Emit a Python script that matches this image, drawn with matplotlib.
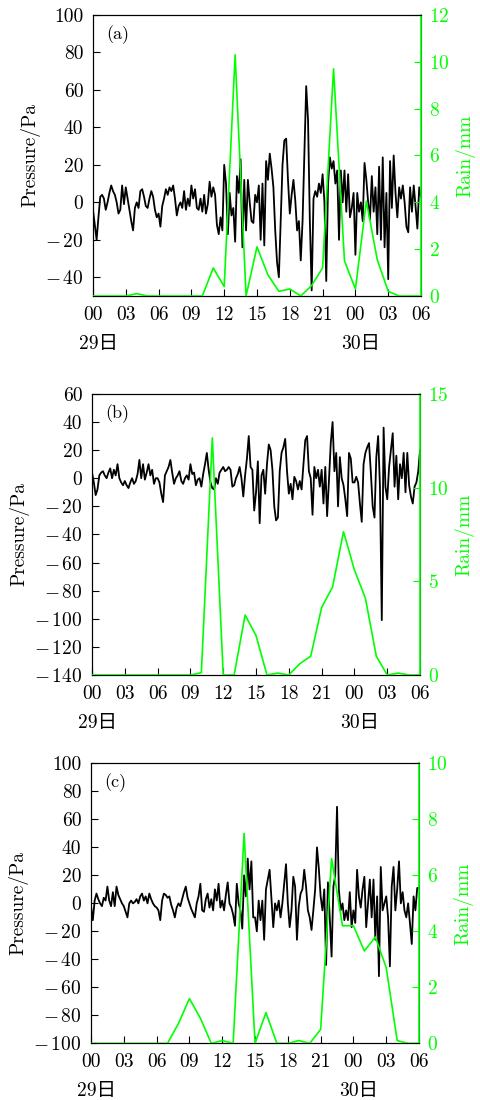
import numpy as np
import matplotlib
matplotlib.use('Agg')
import matplotlib.pyplot as plt
from matplotlib.ticker import FuncFormatter

plt.rcParams['font.family'] = ['cmr10', 'Noto Sans CJK SC']
plt.rcParams['mathtext.fontset'] = 'cm'
plt.rcParams['axes.formatter.use_mathtext'] = True

# pressure, 10-min samples from 29th 00:00 to 30th 06:00 (Pa)
pres_a = [
    -4, -12, -20, -8, 3, 4,   2, -4, 0, 5, 9, 6,   4, 0, -6, -4, 9, -1,
    8, 2, -4, -10, -15, -3,   0, -3, 6, 7, 3, -2,   -3, 2, 6, 3, -4, -8,
    -6, -13, -2, 2, 7, 4,   8, 6, 9, 2, -7, -2,   0, -3, 6, -4, 2, -2,
    9, 2, 7, -3, -4, 2,   -5, 4, -6, -1, 11, 3,   8, 4, -12, -17, -8, -15,
    20, 10, -17, 5, -7, -3,   -21, 14, 5, 23, -24, 12,   -15, 12, 0, -10, -11, 4,
    0, 9, -20, 10, -23, 22,   12, 26, 18, 8, -15, -32,   -40, -10, 20, 33, 34, 12,
    -6, 4, 12, 1, -15, -10,   -31, -10, 25, 62, 44, -10,   -47, 2, 6, 3, 10, 5,
    15, 0, -42, 10, 24, 18,   22, 10, 17, -20, 17, 0,   17, -5, 15, -8, -3, 5,
    -28, 5, -5, 0, -10, 21,   12, 0, -9, 14, -5, 8,   -17, 19, -20, 24, -24, 5,
    -41, 22, -3, 25, 5, -8,   8, 2, 9, 0, -13, -16,   8, -5, 9, -2, -14, 8,
    3]
pres_b = [
    4, -3, -12, -8, 2, 4,   5, 2, 0, 4, 7, 0,   6, 2, 10, 0, -3, -5,
    -2, -5, -7, -3, 0, -4,   -2, 3, 13, 0, 10, -1,   4, 10, 2, 6, -4, 0,
    0, -3, -11, -17, 2, 5,   8, 13, 4, -4, 0, 2,   5, -2, -4, 0, 2, -1,
    10, 3, 4, -5, -1, 0,   -6, 3, 10, 18, 6, -3,   -7, -8, 0, -4, 4, 6,
    8, 5, 6, 8, 6, -6,   -5, 0, 3, 8, 0, -13,   2, 14, 30, 8, 6, -23,
    -10, 12, -32, 2, 6, -11,   10, 24, 20, 6, -20, -30,   -28, 5, 18, 22, 28, 5,
    -11, -4, -15, 1, -2, -8,   -2, -8, 10, 27, 30, 5,   0, -26, 8, 0, 6, -6,
    6, -18, 8, -27, -2, 25,   40, 5, 18, -20, 15, 0,   -5, -15, -27, 18, 14, -3,
    -3, 1, -3, -18, -31, 10,   18, 22, 25, 4, -20, -28,   15, 30, -6, -101, 36, -6,
    -15, 8, 20, 32, -6, 16,   -15, 10, 0, 18, -10, 18,   -5, -13, -18, -6, -3, 5,
    20]
pres_c = [
    -2, -12, 2, 7, 3, 0,   -2, 4, 2, 12, 2, -2,   8, -2, 12, 6, 3, 0,
    -2, -6, -10, 0, 2, 0,   1, 3, 0, 5, 7, 2,   5, 0, 7, 3, 0, -2,
    -3, -5, -12, 2, 7, 6,   4, 5, -1, -5, -10, -3,   0, -2, 3, 8, 12, 4,
    0, -4, -7, -10, 0, 5,   14, -5, -6, 3, 7, -3,   3, -5, 10, 2, 14, -3,
    2, -5, 6, 15, 0, -3,   -8, -16, 14, 0, -5, -18,   20, 5, 32, 10, 30, -10,
    -10, -20, 2, -12, 2, -26,   10, 17, 24, 4, -17, 0,   -5, 2, -10, 0, 14, 28,
    0, -17, -5, 19, 12, -26,   -2, 7, 10, 24, 12, -5,   -10, -19, -5, 10, 40, 25,
    5, -5, 10, -44, 15, -10,   -38, 12, 20, 69, 10, -5,   0, -12, -5, -12, 8, -17,
    -5, -14, 24, 5, -3, 10,   19, -17, 0, 17, -10, 17,   -26, 5, -52, 26, -5, 0,
    5, -10, -45, 12, 26, -5,   10, 30, 0, 8, -5, -10,   0, -14, -29, 5, -5, 11,
    11]

# hourly rain (mm), hours 0..30
rain_a = [0, 0, 0, 0, 0.1, 0, 0, 0, 0, 0, 0, 1.2, 0.4, 10.3, 0, 2.1, 0.9, 0.2,
          0.3, 0, 0.45, 1.2, 9.7, 1.5, 0.3, 4.05, 1.55, 0.2, 0, 0, 0]
rain_b = [0, 0, 0, 0, 0, 0, 0, 0, 0, 0, 0.12, 12.65, 0, 0, 3.2, 2.1, 0, 0.1,
          0, 0.6, 1.0, 3.6, 4.7, 7.65, 5.6, 4.1, 1.0, 0, 0.1, 0, 0]
rain_c = [0, 0, 0, 0, 0, 0, 0, 0, 0.71, 1.6, 0.9, 0, 0.1, 0, 7.5, 0, 1.1, 0,
          0, 0.1, 0, 0.5, 6.6, 4.2, 4.2, 3.3, 3.8, 2.7, 0.1, 0, 0]

hour_labels = ['00', '03', '06', '09', '12', '15', '18', '21', '00', '03', '06']
day_labels = ['29日', '30日']

panels = [
    dict(tag='(a)', pres=pres_a, rain=rain_a, plim=(-50, 100), pticks=range(-40, 101, 20),
         rlim=(0, 12), rticks=range(0, 13, 2), rect=[0.1933, 0.7309, 0.682, 0.2555]),
    dict(tag='(b)', pres=pres_b, rain=rain_b, plim=(-140, 60), pticks=range(-140, 61, 20),
         rlim=(0, 15), rticks=range(0, 16, 5), rect=[0.1913, 0.3864, 0.682, 0.2555]),
    dict(tag='(c)', pres=pres_c, rain=rain_c, plim=(-100, 100), pticks=range(-100, 101, 20),
         rlim=(0, 10), rticks=range(0, 11, 2), rect=[0.1892, 0.0515, 0.682, 0.2545]),
]

green = '#00ff00'
fs = 14


def fmt(v, pos):
    v = int(round(v))
    if v < 0:
        return r'$-\,$' + str(-v)
    return str(v)


fig = plt.figure(figsize=(4.81, 11.0), dpi=100)

for p in panels:
    ax = fig.add_axes(p['rect'])
    t = np.arange(len(p['pres'])) / 6.0
    ax.plot(t, p['pres'], color='black', lw=1.3, zorder=3)
    ax.set_xlim(0, 30)
    ax.set_ylim(*p['plim'])
    ax.set_yticks(list(p['pticks']))
    ax.yaxis.set_major_formatter(FuncFormatter(fmt))
    ax.set_xticks(range(0, 31, 3))
    ax.set_xticklabels(hour_labels)
    ax.tick_params(direction='in', length=5, labelsize=fs, right=False, top=False)
    ax.tick_params(axis='y', pad=7)
    ax.tick_params(axis='x', pad=7)
    ax.set_ylabel('Pressure/Pa', fontsize=fs, labelpad=3)
    ax.text(0.04, 0.93, p['tag'], transform=ax.transAxes, fontsize=13, va='center')
    for i, d in enumerate(day_labels):
        ax.text(0.5 + 24 * i, -0.17, d, transform=ax.get_xaxis_transform(),
                ha='center', va='center', fontsize=fs)

    ax2 = ax.twinx()
    th = np.arange(len(p['rain']))
    ax2.plot(th, p['rain'], color=green, lw=1.2, zorder=4)
    ax2.set_ylim(*p['rlim'])
    ax2.set_yticks(list(p['rticks']))
    ax2.set_xlim(0, 30)
    ax2.tick_params(axis='y', direction='in', length=5, colors=green, labelsize=fs, pad=6)
    ax2.spines['right'].set_color(green)
    ax2.spines['right'].set_linewidth(1.2)
    ax2.set_ylabel('Rain/mm', color=green, fontsize=fs, labelpad=4)

fig.savefig('out.png', dpi=100)
